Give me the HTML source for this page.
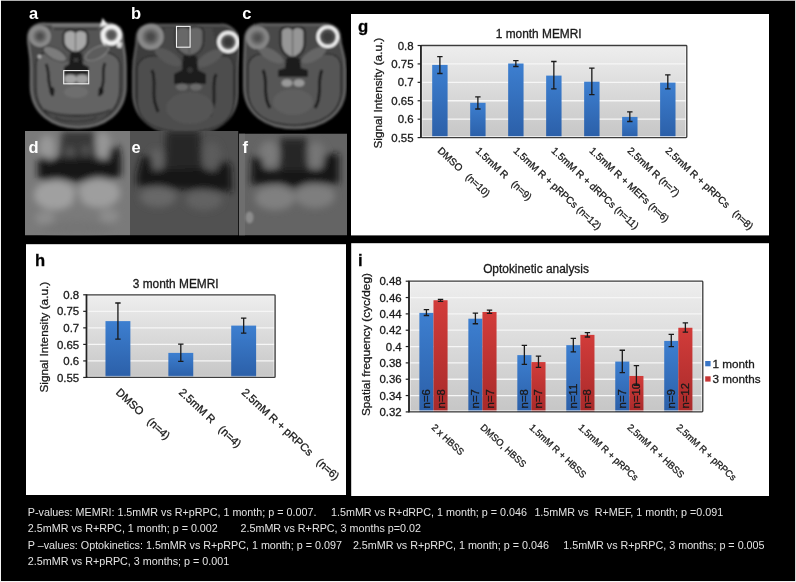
<!DOCTYPE html>
<html><head><meta charset="utf-8"><style>
html,body{margin:0;padding:0;background:#000;width:796px;height:582px;overflow:hidden}
svg{display:block;font-family:"Liberation Sans", sans-serif;will-change:transform}
text{stroke:#1a1a1a;stroke-width:0.3}
text.w{stroke:none}
</style></head><body>
<svg width="796" height="582" viewBox="0 0 796 582">

<defs>
  <linearGradient id="bgg" x1="0" y1="0" x2="0" y2="1">
    <stop offset="0" stop-color="#eeeeee"/><stop offset="1" stop-color="#c6c6c6"/>
  </linearGradient>
  <linearGradient id="bgh" x1="0" y1="0" x2="0" y2="1">
    <stop offset="0" stop-color="#eeeeee"/><stop offset="1" stop-color="#c6c6c6"/>
  </linearGradient>
  <linearGradient id="bgi" x1="0" y1="0" x2="0" y2="1">
    <stop offset="0" stop-color="#eeeeee"/><stop offset="1" stop-color="#c6c6c6"/>
  </linearGradient>
  <linearGradient id="blue" x1="0" y1="0" x2="0" y2="1">
    <stop offset="0" stop-color="#3d7fd0"/><stop offset="1" stop-color="#2b5fa8"/>
  </linearGradient>
  <linearGradient id="red" x1="0" y1="0" x2="0" y2="1">
    <stop offset="0" stop-color="#d23c3a"/><stop offset="1" stop-color="#a82a2a"/>
  </linearGradient>
  <filter id="b1" x="-20%" y="-20%" width="140%" height="140%"><feGaussianBlur stdDeviation="1"/></filter>
  <filter id="b2" x="-30%" y="-30%" width="160%" height="160%"><feGaussianBlur stdDeviation="2"/></filter>
  <filter id="b3" x="-30%" y="-30%" width="160%" height="160%"><feGaussianBlur stdDeviation="3.5"/></filter>
  <filter id="b5" x="-30%" y="-30%" width="160%" height="160%"><feGaussianBlur stdDeviation="5"/></filter>
  <clipPath id="cpa"><rect x="25" y="13" width="105" height="118"/></clipPath>
  <clipPath id="cpb"><rect x="130" y="13" width="109.5" height="118"/></clipPath>
  <clipPath id="cpc"><rect x="238" y="13" width="109" height="118"/></clipPath>
  <clipPath id="cpd"><rect x="25" y="131" width="105" height="104.5"/></clipPath>
  <clipPath id="cpe"><rect x="130" y="131" width="108.5" height="104.5"/></clipPath>
  <clipPath id="cpf"><rect x="239" y="133.5" width="108" height="102"/></clipPath>
</defs>

<rect x="0" y="0" width="796" height="582" fill="#000"/>
<rect x="0" y="0" width="796" height="1" fill="#b0b0b0"/>
<rect x="0" y="0" width="1" height="582" fill="#f4f4f4"/>
<rect x="795" y="0" width="1" height="582" fill="#d6d6d6"/>
<rect x="0" y="581" width="796" height="1" fill="#f4f4f4"/>
<g clip-path="url(#cpa)"><g filter="url(#b1)">
<path d="M46.480000000000004,24 L105.4,24 C111.4,23 122.4,25 122.4,37 C122.4,45 125.5,49 125.5,67 L125.5,85.5 C125.5,113.5 103.5,127.5 78.25,127.5 C53,127.5 31,113.5 31,85.5 L31,69.0 C31,51.0 28.2,47.0 28.2,38.2 C28.2,25.400000000000002 40,23 46.480000000000004,24 Z" fill="#4a4a4a"/>
<path d="M46.480000000000004,24 L105.4,24 C111.4,23 122.4,25 122.4,37 C122.4,45 125.5,49 125.5,67 L125.5,85.5 C125.5,113.5 103.5,127.5 78.25,127.5 C53,127.5 31,113.5 31,85.5 L31,69.0 C31,51.0 28.2,47.0 28.2,38.2 C28.2,25.400000000000002 40,23 46.480000000000004,24 Z" fill="none" stroke="#6e6e6e" stroke-width="2.5"/>
<path d="M36,66 C36,56 42,52 50,52 L102,52 C110,52 120,56 120,66 L120,88 C120,112 102,123 78,123 C54,123 36,112 36,88 Z" fill="#646464"/>
<path d="M36,66 C36,56 42,52 50,52 L102,52 C110,52 120,56 120,66 L120,88 C120,112 102,123 78,123 C54,123 36,112 36,88 Z" fill="none" stroke="#262626" stroke-width="1.3"/>
<path d="M44,108 C56,116 98,116 112,108 C106,120 92,124 78,124 C62,124 50,120 44,108 Z" fill="#4c4c4c"/>
<path d="M52,27 L100,27 L108,48 L92,62 L60,62 L45,48 Z" fill="#555"/>
<path d="M52,25.5 L100,25.5" stroke="#7a7a7a" stroke-width="2.4"/>
<path d="M54,28.8 L98,28.8" stroke="#2e2e2e" stroke-width="1.2"/>
<ellipse cx="55" cy="54" rx="13" ry="5.5" transform="rotate(28 55 54)" fill="#7c7c7c" stroke="#3a3a3a" stroke-width="1"/>
<ellipse cx="97" cy="53" rx="13" ry="5.5" transform="rotate(-28 97 53)" fill="#5c5c5c" stroke="#8a8a8a" stroke-width="1"/>
<path d="M70,53 L82,53 L83,64 L89,67 L89,72 L64,72 L64,67 L69,64 Z" fill="#1e1e1e"/>
<ellipse cx="76" cy="60" rx="2.5" ry="2" fill="#404040"/>
<path d="M46,64 C50,72 47,80 51,90 L53,96" stroke="#1a1a1a" stroke-width="2.6" fill="none"/>
<ellipse cx="52" cy="91" rx="2.5" ry="4" fill="#1a1a1a"/>
<ellipse cx="101" cy="91" rx="2.5" ry="4" fill="#1a1a1a"/>
<path d="M105,63 C101,72 106,80 101,90 L99,96" stroke="#1a1a1a" stroke-width="2.6" fill="none"/>
<rect x="64" y="71" width="24" height="3.5" fill="#1e1e1e"/>
<ellipse cx="70.5" cy="79" rx="6" ry="4.5" fill="#a4a4a4"/>
<ellipse cx="82" cy="79" rx="6" ry="4.5" fill="#a0a0a0"/>
<ellipse cx="76" cy="92" rx="12" ry="6" fill="#6e6e6e"/>
<path d="M44,110 C58,118 95,118 110,110" stroke="#2a2a2a" stroke-width="1.3" fill="none"/>
<path d="M55,117 C60,123 90,123 97,117" stroke="#333" stroke-width="1.2" fill="none"/>
<path d="M75.5,32.0 C73.5,29.0 63.5,29.0 63.5,35.5 L63.5,41 C63.5,48.5 71.5,52.5 75.5,52.5 C79.5,52.5 87.5,48.5 87.5,41 L87.5,35.5 C87.5,29.0 77.5,29.0 75.5,32.0 Z" fill="#a8a8a8" stroke="#262626" stroke-width="2"/><line x1="75.5" y1="32.5" x2="75.5" y2="50.5" stroke="#4a4a4a" stroke-width="0.9"/>
<circle cx="40" cy="36.2" r="10.8" fill="#8c8c8c"/><circle cx="40" cy="36.2" r="6.696000000000001" fill="#6a6a6a" filter="url(#b1)"/><circle cx="40" cy="36.2" r="3.78" fill="#4c4c4c" filter="url(#b1)"/>
<circle cx="111.4" cy="35" r="10.4" fill="#a0a0a0"/><circle cx="111.4" cy="35" r="8.3" fill="none" stroke="#f4f4f4" stroke-width="4.2"/><circle cx="111.4" cy="35" r="5.2" fill="#555" filter="url(#b1)"/>
<path d="M101,30 C100,38 102,44 106,46 L104,40 Z" fill="#f0f0f0"/>
<path d="M118,41 L122,43 L121,48 L117,47 Z" fill="#e6e6e6"/>
<path d="M100,27 L102.5,18 L108,25 Z" fill="#eeeeee"/>
<path d="M116,42 L121,44 L118,48 Z" fill="#dddddd"/>
<circle cx="39.5" cy="56.5" r="2" fill="#b0b0b0"/>
</g></g>
<g clip-path="url(#cpb)"><g filter="url(#b1)">
<path d="M158.5,25 L220.1,25 C227,24 239.5,30.4 239.5,43.9 C239.5,53.4 237.5,57.4 237.5,75.4 L237.5,92 C237.5,120 215.5,134 185.35,134 C155.2,134 133.2,120 133.2,92 L133.2,71.8 C133.2,53.8 136.7,49.8 136.7,38.8 C136.7,23.799999999999997 150.7,24 158.5,25 Z" fill="#3e3e3e"/>
<path d="M158.5,25 L220.1,25 C227,24 239.5,30.4 239.5,43.9 C239.5,53.4 237.5,57.4 237.5,75.4 L237.5,92 C237.5,120 215.5,134 185.35,134 C155.2,134 133.2,120 133.2,92 L133.2,71.8 C133.2,53.8 136.7,49.8 136.7,38.8 C136.7,23.799999999999997 150.7,24 158.5,25 Z" fill="none" stroke="#5a5a5a" stroke-width="2.5"/>
<path d="M137,70 C137,60 145,56 153,56 L225,56 C231,56 234,62 234,70 L234,100 C234,124 214,132 186,132 C158,132 137,124 137,100 Z" fill="#4e4e4e"/>
<path d="M137,70 C137,60 145,56 153,56 L225,56 C231,56 234,62 234,70 L234,100 C234,124 214,132 186,132 C158,132 137,124 137,100 Z" fill="none" stroke="#222" stroke-width="1.2"/>
<path d="M165,28 L212,28 L218,52 L204,64 L174,64 L160,52 Z" fill="#474747"/>
<ellipse cx="168" cy="57" rx="15" ry="6" transform="rotate(30 168 57)" fill="#595959"/>
<ellipse cx="210" cy="58" rx="15" ry="6" transform="rotate(-30 210 58)" fill="#5a5a5a"/>
<path d="M183,56 L197,56 L198,70 L206,74 L206,84 L174,84 L174,74 L182,70 Z" fill="#1c1c1c"/>
<ellipse cx="190" cy="70" rx="3" ry="3" fill="#333"/>
<path d="M152,70 C157,82 151,95 156,106 L158,112" stroke="#1a1a1a" stroke-width="2.8" fill="none"/>
<path d="M216,74 C211,86 217,100 212,110 L210,116" stroke="#1a1a1a" stroke-width="2.8" fill="none"/>
<ellipse cx="182" cy="87" rx="6" ry="3.5" fill="#6a6a6a"/>
<ellipse cx="196" cy="87" rx="6" ry="3.5" fill="#6a6a6a"/>
<ellipse cx="190" cy="108" rx="24" ry="16" fill="#545454"/>
<path d="M189.4,28.5 C187.4,25.5 175.4,25.5 175.4,32.0 L175.4,41 C175.4,52.0 185.4,56.0 189.4,56.0 C193.4,56.0 203.4,52.0 203.4,41 L203.4,32.0 C203.4,25.5 191.4,25.5 189.4,28.5 Z" fill="#676767" stroke="#2a2a2a" stroke-width="1.8"/><line x1="189.4" y1="29.0" x2="189.4" y2="54.0" stroke="#4a4a4a" stroke-width="0.9"/>
<circle cx="150.7" cy="36.8" r="13" fill="#8a8a8a"/><circle cx="150.7" cy="36.8" r="8.06" fill="#666" filter="url(#b1)"/><circle cx="150.7" cy="36.8" r="4.55" fill="#484848" filter="url(#b1)"/>
<circle cx="228.2" cy="42" r="11" fill="#6a6a6a"/><circle cx="228.2" cy="42" r="9.4" fill="none" stroke="#f2f2f2" stroke-width="3.2"/><circle cx="228.2" cy="42" r="5.5" fill="#383838" filter="url(#b1)"/>
</g></g>
<g clip-path="url(#cpc)"><g filter="url(#b1)">
<path d="M264.5,24.4 L321.02000000000004,24.4 C327.8,23.4 340.1,25.499999999999996 340.1,38.8 C340.1,48.099999999999994 345.3,52.099999999999994 345.3,70.1 L345.3,86 C345.3,114 323.3,128 294.75,128 C266.2,128 244.2,114 244.2,86 L244.2,71.3 C244.2,53.3 245.10000000000002,49.3 245.10000000000002,39.8 C245.10000000000002,26.299999999999997 257.6,23.4 264.5,24.4 Z" fill="#464646"/>
<path d="M264.5,24.4 L321.02000000000004,24.4 C327.8,23.4 340.1,25.499999999999996 340.1,38.8 C340.1,48.099999999999994 345.3,52.099999999999994 345.3,70.1 L345.3,86 C345.3,114 323.3,128 294.75,128 C266.2,128 244.2,114 244.2,86 L244.2,71.3 C244.2,53.3 245.10000000000002,49.3 245.10000000000002,39.8 C245.10000000000002,26.299999999999997 257.6,23.4 264.5,24.4 Z" fill="none" stroke="#666" stroke-width="2.5"/>
<path d="M248,68 C248,58 255,54 263,54 L327,54 C335,54 341,58 341,68 L341,90 C341,114 320,125 294,125 C268,125 248,114 248,90 Z" fill="#575757"/>
<path d="M248,68 C248,58 255,54 263,54 L327,54 C335,54 341,58 341,68 L341,90 C341,114 320,125 294,125 C268,125 248,114 248,90 Z" fill="none" stroke="#222" stroke-width="1.2"/>
<path d="M270,27 L316,27 L322,48 L308,60 L278,60 L264,48 Z" fill="#4a4a4a"/>
<ellipse cx="271" cy="55" rx="14" ry="5.5" transform="rotate(30 271 55)" fill="#666"/>
<ellipse cx="314" cy="55" rx="14" ry="5.5" transform="rotate(-30 314 55)" fill="#666"/>
<path d="M286,58 L300,58 L301,68 L308,70 L308,77 L278,77 L278,70 L285,68 Z" fill="#1c1c1c"/>
<path d="M263,70 C268,80 263,92 268,104 L270,108" stroke="#181818" stroke-width="2.8" fill="none"/>
<path d="M322,70 C317,80 322,92 317,104 L315,108" stroke="#181818" stroke-width="2.8" fill="none"/>
<ellipse cx="287" cy="83" rx="5.5" ry="3.8" fill="#9a9a9a"/>
<ellipse cx="299" cy="83" rx="5.5" ry="3.8" fill="#9a9a9a"/>
<ellipse cx="293" cy="102" rx="20" ry="13" fill="#5e5e5e"/>
<path d="M292.6,29.0 C290.6,26.0 280.6,26.0 280.6,32.5 L280.6,42 C280.6,53.5 288.6,57.5 292.6,57.5 C296.6,57.5 304.6,53.5 304.6,42 L304.6,32.5 C304.6,26.0 294.6,26.0 292.6,29.0 Z" fill="#969696" stroke="#202020" stroke-width="2.2"/><line x1="292.6" y1="29.5" x2="292.6" y2="55.5" stroke="#4a4a4a" stroke-width="0.9"/>
<circle cx="257.6" cy="37.8" r="11.5" fill="#868686"/><circle cx="257.6" cy="37.8" r="7.13" fill="#676767" filter="url(#b1)"/><circle cx="257.6" cy="37.8" r="4.0249999999999995" fill="#505050" filter="url(#b1)"/>
<circle cx="327.8" cy="36.8" r="11.3" fill="#5a5a5a"/><circle cx="327.8" cy="36.8" r="9.8" fill="none" stroke="#f6f6f6" stroke-width="3"/><circle cx="327.8" cy="36.8" r="5.65" fill="#3a3a3a" filter="url(#b1)"/>
</g></g>
<rect x="63.7" y="70.6" width="25" height="13.2" fill="none" stroke="#f2f2f2" stroke-width="1.1"/>
<rect x="176.5" y="26.4" width="13.6" height="20.8" fill="none" stroke="#f2f2f2" stroke-width="1.1"/>
<g clip-path="url(#cpd)">
<rect x="25" y="131" width="105" height="104.5" fill="#7a7a7a"/>
<g filter="url(#b3)">
<ellipse cx="47" cy="148" rx="8" ry="13" fill="#989898"/>
<ellipse cx="103" cy="146" rx="8" ry="14" fill="#969696"/>
<path d="M62,131 L94,131 L97,160 L59,160 Z" fill="#383838"/>
<ellipse cx="70" cy="152" rx="4" ry="5" fill="#5a5a5a"/>
<ellipse cx="86" cy="150" rx="4" ry="5" fill="#555"/>
<path d="M38,161 L42,156 L50,160 L58,158 L98,158 L108,160 L110,148 L119,146 L121,158 L121,176 L110,180 L98,178 L78,182 L58,179 L46,181 L38,178 Z" fill="#141414"/>
<ellipse cx="55" cy="195" rx="21" ry="15" fill="#a0a0a0"/>
<ellipse cx="99" cy="193" rx="21" ry="15" fill="#9e9e9e"/>
<ellipse cx="77" cy="200" rx="4" ry="9" fill="#7a7a7a"/>
<ellipse cx="45" cy="218" rx="10" ry="7" fill="#8c8c8c"/>
<ellipse cx="109" cy="216" rx="10" ry="7" fill="#8c8c8c"/>
<ellipse cx="77" cy="228" rx="36" ry="7" fill="#747474"/>
</g></g>
<g clip-path="url(#cpe)">
<rect x="130" y="131" width="108.5" height="104.5" fill="#515151"/>
<g filter="url(#b3)">
<ellipse cx="156" cy="160" rx="7" ry="11" fill="#646464"/>
<ellipse cx="212" cy="156" rx="9" ry="14" fill="#5c5c5c"/>
<path d="M166,131 L200,131 L202,170 L165,170 Z" fill="#262626"/>
<path d="M137,174 L142,156 L151,156 L153,170 L200,168 L215,172 L222,160 L231,165 L232,192 L200,189 L182,190 L160,186 L137,186 Z" fill="#161616"/>
<ellipse cx="158" cy="197" rx="18" ry="10" fill="#686868"/>
<ellipse cx="204" cy="200" rx="18" ry="10" fill="#626262"/>
</g></g>
<g clip-path="url(#cpf)">
<rect x="239" y="133.5" width="108" height="102" fill="#646464"/>
<rect x="239" y="133.5" width="6" height="102" fill="#6e6e6e"/>
<g filter="url(#b3)">
<ellipse cx="269" cy="154" rx="10" ry="13" fill="#7a7a7a"/>
<ellipse cx="316" cy="155" rx="10" ry="13" fill="#767676"/>
<path d="M280,138 L307,138 L308,172 L280,172 Z" fill="#262626"/>
<path d="M251,178 L252,156 L262,158 L264,170 L322,170 L325,154 L339,154 L339,184 L308,183 L294,188 L280,183 L251,185 Z" fill="#141414"/>
<ellipse cx="275" cy="198" rx="20" ry="12" fill="#808080"/>
<ellipse cx="315" cy="196" rx="20" ry="12" fill="#7e7e7e"/>
</g>
<ellipse cx="249.5" cy="217.5" rx="4" ry="6" fill="#8c8c8c" filter="url(#b1)"/>
</g>
<text x="29.0" y="19.1" font-size="16.5" font-weight="bold" fill="#fff" class="w">a</text>
<text x="130.9" y="19.1" font-size="16.5" font-weight="bold" fill="#fff" class="w">b</text>
<text x="242.3" y="19.2" font-size="16.5" font-weight="bold" fill="#fff" class="w">c</text>
<text x="28.6" y="153.1" font-size="16.5" font-weight="bold" fill="#fff" class="w">d</text>
<text x="131.4" y="153.1" font-size="16.5" font-weight="bold" fill="#fff" class="w">e</text>
<text x="242.6" y="153.1" font-size="16.5" font-weight="bold" fill="#fff" class="w">f</text>
<rect x="351" y="14" width="418" height="221.4" fill="#fff"/>
<text x="358.1" y="32.1" font-size="16.8" font-weight="bold" fill="#000">g</text>
<text x="538.7" y="37.9" font-size="11.9" text-anchor="middle" fill="#1a1a1a">1 month MEMRI</text>
<text transform="translate(382.3,93.2) rotate(-90)" font-size="11.8" text-anchor="middle" fill="#1a1a1a">Signal Intensity (a.u.)</text>
<rect x="420.9" y="45.5" width="265.9" height="92.1" fill="url(#bgg)"/>
<line x1="420.9" y1="119.18" x2="686.8" y2="119.18" stroke="#f6f6f6" stroke-width="1.3"/>
<line x1="420.9" y1="100.76" x2="686.8" y2="100.76" stroke="#f6f6f6" stroke-width="1.3"/>
<line x1="420.9" y1="82.34" x2="686.8" y2="82.34" stroke="#f6f6f6" stroke-width="1.3"/>
<line x1="420.9" y1="63.92" x2="686.8" y2="63.92" stroke="#f6f6f6" stroke-width="1.3"/>
<rect x="432.19" y="64.91" width="15.4" height="72.69" fill="url(#blue)"/>
<rect x="470.18" y="102.79" width="15.4" height="34.81" fill="url(#blue)"/>
<rect x="508.16" y="63.51" width="15.4" height="74.09" fill="url(#blue)"/>
<rect x="546.15" y="75.60" width="15.4" height="62.00" fill="url(#blue)"/>
<rect x="584.14" y="81.71" width="15.4" height="55.89" fill="url(#blue)"/>
<rect x="622.12" y="116.90" width="15.4" height="20.70" fill="url(#blue)"/>
<rect x="660.11" y="82.60" width="15.4" height="55.00" fill="url(#blue)"/>
<path d="M439.89 56.59V73.50M437.19 56.59H442.59M437.19 73.50H442.59" stroke="#1a1a1a" stroke-width="1.3" fill="none"/>
<path d="M477.88 96.82V109.01M475.18 96.82H480.58M475.18 109.01H480.58" stroke="#1a1a1a" stroke-width="1.3" fill="none"/>
<path d="M515.86 60.60V66.50M513.16 60.60H518.56M513.16 66.50H518.56" stroke="#1a1a1a" stroke-width="1.3" fill="none"/>
<path d="M553.85 61.49V88.90M551.15 61.49H556.55M551.15 88.90H556.55" stroke="#1a1a1a" stroke-width="1.3" fill="none"/>
<path d="M591.84 68.19V94.61M589.14 68.19H594.54M589.14 94.61H594.54" stroke="#1a1a1a" stroke-width="1.3" fill="none"/>
<path d="M629.82 111.81V121.50M627.12 111.81H632.52M627.12 121.50H632.52" stroke="#1a1a1a" stroke-width="1.3" fill="none"/>
<path d="M667.81 74.90V88.90M665.11 74.90H670.51M665.11 88.90H670.51" stroke="#1a1a1a" stroke-width="1.3" fill="none"/>
<rect x="422.0" y="46.6" width="263.7" height="89.89999999999999" fill="none" stroke="#fafafa" stroke-width="0.9" opacity="0.8"/>
<rect x="420.9" y="45.5" width="265.9" height="92.1" rx="0.8" fill="none" stroke="#3c3c3c" stroke-width="1.3"/>
<line x1="420.9" y1="45.0" x2="420.9" y2="138.1" stroke="#222" stroke-width="1.6"/>
<line x1="417.59999999999997" y1="137.60" x2="420.9" y2="137.60" stroke="#222" stroke-width="1.2"/>
<text x="413.60" y="141.72" font-size="11.45" text-anchor="end" fill="#1a1a1a">0.55</text>
<line x1="417.59999999999997" y1="119.18" x2="420.9" y2="119.18" stroke="#222" stroke-width="1.2"/>
<text x="413.60" y="123.30" font-size="11.45" text-anchor="end" fill="#1a1a1a">0.6</text>
<line x1="417.59999999999997" y1="100.76" x2="420.9" y2="100.76" stroke="#222" stroke-width="1.2"/>
<text x="413.60" y="104.88" font-size="11.45" text-anchor="end" fill="#1a1a1a">0.65</text>
<line x1="417.59999999999997" y1="82.34" x2="420.9" y2="82.34" stroke="#222" stroke-width="1.2"/>
<text x="413.60" y="86.46" font-size="11.45" text-anchor="end" fill="#1a1a1a">0.7</text>
<line x1="417.59999999999997" y1="63.92" x2="420.9" y2="63.92" stroke="#222" stroke-width="1.2"/>
<text x="413.60" y="68.04" font-size="11.45" text-anchor="end" fill="#1a1a1a">0.75</text>
<line x1="417.59999999999997" y1="45.50" x2="420.9" y2="45.50" stroke="#222" stroke-width="1.2"/>
<text x="413.60" y="49.62" font-size="11.45" text-anchor="end" fill="#1a1a1a">0.8</text>
<text transform="translate(436.89,151.5) rotate(43)" font-size="10" fill="#1a1a1a" xml:space="preserve">DMSO   (n=10)</text>
<text transform="translate(474.88,151.5) rotate(43)" font-size="10" fill="#1a1a1a" xml:space="preserve">1.5mM R   (n=9)</text>
<text transform="translate(512.86,151.5) rotate(43)" font-size="10" fill="#1a1a1a" xml:space="preserve">1.5mM R + pRPCs (n=12)</text>
<text transform="translate(550.85,151.5) rotate(43)" font-size="10" fill="#1a1a1a" xml:space="preserve">1.5mM R + dRPCs (n=11)</text>
<text transform="translate(588.84,151.5) rotate(43)" font-size="10" fill="#1a1a1a" xml:space="preserve">1.5mM R + MEFs (n=6)</text>
<text transform="translate(626.82,151.5) rotate(43)" font-size="10" fill="#1a1a1a" xml:space="preserve">2.5mM R (n=7)</text>
<text transform="translate(664.81,151.5) rotate(43)" font-size="10" fill="#1a1a1a" xml:space="preserve">2.5mM R + pRPCs   (n=8)</text>
<rect x="26" y="244.2" width="320" height="250.8" fill="#fff"/>
<text x="35.1" y="265.6" font-size="16.6" font-weight="bold" fill="#000">h</text>
<text x="175.7" y="288.2" font-size="11.9" text-anchor="middle" fill="#1a1a1a">3 month MEMRI</text>
<text transform="translate(47.7,337.2) rotate(-90)" font-size="11.8" text-anchor="middle" fill="#1a1a1a">Signal Intensity (a.u.)</text>
<rect x="86.5" y="294.8" width="188.60000000000002" height="82.64999999999998" fill="url(#bgh)"/>
<line x1="86.5" y1="360.92" x2="275.1" y2="360.92" stroke="#f6f6f6" stroke-width="1.3"/>
<line x1="86.5" y1="344.39" x2="275.1" y2="344.39" stroke="#f6f6f6" stroke-width="1.3"/>
<line x1="86.5" y1="327.86" x2="275.1" y2="327.86" stroke="#f6f6f6" stroke-width="1.3"/>
<line x1="86.5" y1="311.33" x2="275.1" y2="311.33" stroke="#f6f6f6" stroke-width="1.3"/>
<rect x="105.48" y="321.12" width="24.9" height="56.33" fill="url(#blue)"/>
<rect x="168.35" y="352.89" width="24.9" height="24.56" fill="url(#blue)"/>
<rect x="231.22" y="325.61" width="24.9" height="51.84" fill="url(#blue)"/>
<path d="M117.93 303.00V339.20M115.23 303.00H120.63M115.23 339.20H120.63" stroke="#1a1a1a" stroke-width="1.3" fill="none"/>
<path d="M180.80 344.19V361.28M178.10 344.19H183.50M178.10 361.28H183.50" stroke="#1a1a1a" stroke-width="1.3" fill="none"/>
<path d="M243.67 318.11V333.22M240.97 318.11H246.37M240.97 333.22H246.37" stroke="#1a1a1a" stroke-width="1.3" fill="none"/>
<rect x="87.6" y="295.90000000000003" width="186.40000000000003" height="80.44999999999997" fill="none" stroke="#fafafa" stroke-width="0.9" opacity="0.8"/>
<rect x="86.5" y="294.8" width="188.60000000000002" height="82.64999999999998" rx="0.8" fill="none" stroke="#3c3c3c" stroke-width="1.3"/>
<line x1="86.5" y1="294.3" x2="86.5" y2="377.95" stroke="#222" stroke-width="1.6"/>
<line x1="83.2" y1="377.45" x2="86.5" y2="377.45" stroke="#222" stroke-width="1.2"/>
<text x="79.20" y="381.57" font-size="11.45" text-anchor="end" fill="#1a1a1a">0.55</text>
<line x1="83.2" y1="360.92" x2="86.5" y2="360.92" stroke="#222" stroke-width="1.2"/>
<text x="79.20" y="365.04" font-size="11.45" text-anchor="end" fill="#1a1a1a">0.6</text>
<line x1="83.2" y1="344.39" x2="86.5" y2="344.39" stroke="#222" stroke-width="1.2"/>
<text x="79.20" y="348.51" font-size="11.45" text-anchor="end" fill="#1a1a1a">0.65</text>
<line x1="83.2" y1="327.86" x2="86.5" y2="327.86" stroke="#222" stroke-width="1.2"/>
<text x="79.20" y="331.98" font-size="11.45" text-anchor="end" fill="#1a1a1a">0.7</text>
<line x1="83.2" y1="311.33" x2="86.5" y2="311.33" stroke="#222" stroke-width="1.2"/>
<text x="79.20" y="315.45" font-size="11.45" text-anchor="end" fill="#1a1a1a">0.75</text>
<line x1="83.2" y1="294.80" x2="86.5" y2="294.80" stroke="#222" stroke-width="1.2"/>
<text x="79.20" y="298.92" font-size="11.45" text-anchor="end" fill="#1a1a1a">0.8</text>
<text transform="translate(115.33,393.3) rotate(43)" font-size="11.1" fill="#1a1a1a" xml:space="preserve">DMSO   (n=4)</text>
<text transform="translate(178.20,393.3) rotate(43)" font-size="11.1" fill="#1a1a1a" xml:space="preserve">2.5mM R   (n=4)</text>
<text transform="translate(241.07,393.3) rotate(43)" font-size="11.1" fill="#1a1a1a" xml:space="preserve">2.5mM R + pRPCs   (n=6)</text>
<rect x="351.2" y="243.2" width="417.8" height="252.8" fill="#fff"/>
<text x="357.9" y="265.6" font-size="16.6" font-weight="bold" fill="#000">i</text>
<text x="536" y="272.8" font-size="11.9" text-anchor="middle" fill="#1a1a1a">Optokinetic analysis</text>
<text transform="translate(369.8,344.6) rotate(-90)" font-size="11.8" text-anchor="middle" fill="#1a1a1a">Spatial frequency (cyc/deg)</text>
<rect x="409" y="281.2" width="293.79999999999995" height="130.7" fill="url(#bgi)"/>
<line x1="409" y1="395.56" x2="702.8" y2="395.56" stroke="#f6f6f6" stroke-width="1.3"/>
<line x1="409" y1="379.23" x2="702.8" y2="379.23" stroke="#f6f6f6" stroke-width="1.3"/>
<line x1="409" y1="362.89" x2="702.8" y2="362.89" stroke="#f6f6f6" stroke-width="1.3"/>
<line x1="409" y1="346.55" x2="702.8" y2="346.55" stroke="#f6f6f6" stroke-width="1.3"/>
<line x1="409" y1="330.21" x2="702.8" y2="330.21" stroke="#f6f6f6" stroke-width="1.3"/>
<line x1="409" y1="313.88" x2="702.8" y2="313.88" stroke="#f6f6f6" stroke-width="1.3"/>
<line x1="409" y1="297.54" x2="702.8" y2="297.54" stroke="#f6f6f6" stroke-width="1.3"/>
<rect x="419.38" y="312.89" width="14.1" height="99.01" fill="url(#blue)"/>
<rect x="433.48" y="300.23" width="14.1" height="111.67" fill="url(#red)"/>
<rect x="468.35" y="318.69" width="14.1" height="93.21" fill="url(#blue)"/>
<rect x="482.45" y="312.00" width="14.1" height="99.90" fill="url(#red)"/>
<rect x="517.32" y="355.13" width="14.1" height="56.77" fill="url(#blue)"/>
<rect x="531.42" y="362.07" width="14.1" height="49.83" fill="url(#red)"/>
<rect x="566.28" y="345.16" width="14.1" height="66.74" fill="url(#blue)"/>
<rect x="580.38" y="334.87" width="14.1" height="77.03" fill="url(#red)"/>
<rect x="615.25" y="361.58" width="14.1" height="50.32" fill="url(#blue)"/>
<rect x="629.35" y="375.96" width="14.1" height="35.94" fill="url(#red)"/>
<rect x="664.22" y="340.91" width="14.1" height="70.99" fill="url(#blue)"/>
<rect x="678.32" y="327.76" width="14.1" height="84.14" fill="url(#red)"/>
<path d="M426.43 309.71V315.51M423.73 309.71H429.13M423.73 315.51H429.13" stroke="#1a1a1a" stroke-width="1.3" fill="none"/>
<path d="M440.53 299.33V301.38M437.83 299.33H443.23M437.83 301.38H443.23" stroke="#1a1a1a" stroke-width="1.3" fill="none"/>
<path d="M475.40 313.22V323.76M472.70 313.22H478.10M472.70 323.76H478.10" stroke="#1a1a1a" stroke-width="1.3" fill="none"/>
<path d="M489.50 310.20V313.38M486.80 310.20H492.20M486.80 313.38H492.20" stroke="#1a1a1a" stroke-width="1.3" fill="none"/>
<path d="M524.37 345.41V364.36M521.67 345.41H527.07M521.67 364.36H527.07" stroke="#1a1a1a" stroke-width="1.3" fill="none"/>
<path d="M538.47 356.03V367.38M535.77 356.03H541.17M535.77 367.38H541.17" stroke="#1a1a1a" stroke-width="1.3" fill="none"/>
<path d="M573.33 338.38V351.86M570.63 338.38H576.03M570.63 351.86H576.03" stroke="#1a1a1a" stroke-width="1.3" fill="none"/>
<path d="M587.43 332.58V336.99M584.73 332.58H590.13M584.73 336.99H590.13" stroke="#1a1a1a" stroke-width="1.3" fill="none"/>
<path d="M622.30 350.23V372.69M619.60 350.23H625.00M619.60 372.69H625.00" stroke="#1a1a1a" stroke-width="1.3" fill="none"/>
<path d="M636.40 365.66V385.27M633.70 365.66H639.10M633.70 385.27H639.10" stroke="#1a1a1a" stroke-width="1.3" fill="none"/>
<path d="M671.27 334.30V346.71M668.57 334.30H673.97M668.57 346.71H673.97" stroke="#1a1a1a" stroke-width="1.3" fill="none"/>
<path d="M685.37 322.86V332.09M682.67 322.86H688.07M682.67 332.09H688.07" stroke="#1a1a1a" stroke-width="1.3" fill="none"/>
<rect x="410.1" y="282.3" width="291.59999999999997" height="128.5" fill="none" stroke="#fafafa" stroke-width="0.9" opacity="0.8"/>
<rect x="409" y="281.2" width="293.79999999999995" height="130.7" rx="0.8" fill="none" stroke="#3c3c3c" stroke-width="1.3"/>
<line x1="409" y1="280.7" x2="409" y2="412.4" stroke="#222" stroke-width="1.6"/>
<line x1="405.7" y1="411.90" x2="409" y2="411.90" stroke="#222" stroke-width="1.2"/>
<text x="401.70" y="416.02" font-size="11.45" text-anchor="end" fill="#1a1a1a">0.32</text>
<line x1="405.7" y1="395.56" x2="409" y2="395.56" stroke="#222" stroke-width="1.2"/>
<text x="401.70" y="399.68" font-size="11.45" text-anchor="end" fill="#1a1a1a">0.34</text>
<line x1="405.7" y1="379.23" x2="409" y2="379.23" stroke="#222" stroke-width="1.2"/>
<text x="401.70" y="383.35" font-size="11.45" text-anchor="end" fill="#1a1a1a">0.36</text>
<line x1="405.7" y1="362.89" x2="409" y2="362.89" stroke="#222" stroke-width="1.2"/>
<text x="401.70" y="367.01" font-size="11.45" text-anchor="end" fill="#1a1a1a">0.38</text>
<line x1="405.7" y1="346.55" x2="409" y2="346.55" stroke="#222" stroke-width="1.2"/>
<text x="401.70" y="350.67" font-size="11.45" text-anchor="end" fill="#1a1a1a">0.4</text>
<line x1="405.7" y1="330.21" x2="409" y2="330.21" stroke="#222" stroke-width="1.2"/>
<text x="401.70" y="334.33" font-size="11.45" text-anchor="end" fill="#1a1a1a">0.42</text>
<line x1="405.7" y1="313.88" x2="409" y2="313.88" stroke="#222" stroke-width="1.2"/>
<text x="401.70" y="318.00" font-size="11.45" text-anchor="end" fill="#1a1a1a">0.44</text>
<line x1="405.7" y1="297.54" x2="409" y2="297.54" stroke="#222" stroke-width="1.2"/>
<text x="401.70" y="301.66" font-size="11.45" text-anchor="end" fill="#1a1a1a">0.46</text>
<line x1="405.7" y1="281.20" x2="409" y2="281.20" stroke="#222" stroke-width="1.2"/>
<text x="401.70" y="285.32" font-size="11.45" text-anchor="end" fill="#1a1a1a">0.48</text>
<text transform="translate(430.43,408.4) rotate(-90)" font-size="11.3" fill="#1a1a1a">n=6</text>
<text transform="translate(444.53,408.4) rotate(-90)" font-size="11.3" fill="#1a1a1a">n=8</text>
<text transform="translate(479.40,408.4) rotate(-90)" font-size="11.3" fill="#1a1a1a">n=7</text>
<text transform="translate(493.50,408.4) rotate(-90)" font-size="11.3" fill="#1a1a1a">n=7</text>
<text transform="translate(528.37,408.4) rotate(-90)" font-size="11.3" fill="#1a1a1a">n=8</text>
<text transform="translate(542.47,408.4) rotate(-90)" font-size="11.3" fill="#1a1a1a">n=7</text>
<text transform="translate(577.33,408.4) rotate(-90)" font-size="11.3" fill="#1a1a1a">n=11</text>
<text transform="translate(591.43,408.4) rotate(-90)" font-size="11.3" fill="#1a1a1a">n=8</text>
<text transform="translate(626.30,408.4) rotate(-90)" font-size="11.3" fill="#1a1a1a">n=7</text>
<text transform="translate(640.40,408.4) rotate(-90)" font-size="11.3" fill="#1a1a1a">n=10</text>
<text transform="translate(675.27,408.4) rotate(-90)" font-size="11.3" fill="#1a1a1a">n=9</text>
<text transform="translate(689.37,408.4) rotate(-90)" font-size="11.3" fill="#1a1a1a">n=12</text>
<rect x="705.2" y="361" width="5.4" height="5.3" fill="#3a76c6"/>
<rect x="705.2" y="376.3" width="5.4" height="5.3" fill="#c63636"/>
<text x="712.6" y="368" font-size="11.7" fill="#1a1a1a">1 month</text>
<text x="712.6" y="383.2" font-size="11.7" fill="#1a1a1a">3 months</text>
<text transform="translate(430.88,428.2) rotate(43) scale(0.97,1)" font-size="9.6" fill="#1a1a1a">2 x HBSS</text>
<text transform="translate(479.85,428.2) rotate(43) scale(0.97,1)" font-size="9.6" fill="#1a1a1a">DMSO, HBSS</text>
<text transform="translate(528.82,428.2) rotate(43) scale(0.97,1)" font-size="9.6" fill="#1a1a1a">1.5mM R + HBSS</text>
<text transform="translate(577.78,428.2) rotate(43) scale(0.97,1)" font-size="9.6" fill="#1a1a1a">1.5mM R + pRPCs</text>
<text transform="translate(626.75,428.2) rotate(43) scale(0.97,1)" font-size="9.6" fill="#1a1a1a">2.5mM R + HBSS</text>
<text transform="translate(675.72,428.2) rotate(43) scale(0.97,1)" font-size="9.6" fill="#1a1a1a">2.5mM R + pRPCs</text>
<text x="27.8" y="515.5" font-size="10.75" fill="#e2e2e2" class="w" xml:space="preserve">P-values: MEMRI: 1.5mMR vs R+pRPC, 1 month; p = 0.007.</text>
<text x="331.0" y="515.5" font-size="10.75" fill="#e2e2e2" class="w" xml:space="preserve">1.5mMR vs R+dRPC, 1 month; p = 0.046</text>
<text x="534.4" y="515.5" font-size="10.75" fill="#e2e2e2" class="w" xml:space="preserve">1.5mMR vs  R+MEF, 1 month; p =0.091</text>
<text x="27.8" y="532.4" font-size="10.75" fill="#e2e2e2" class="w" xml:space="preserve">2.5mMR vs R+RPC, 1 month; p = 0.002</text>
<text x="240.5" y="532.4" font-size="10.75" fill="#e2e2e2" class="w" xml:space="preserve">2.5mMR vs R+RPC, 3 months p=0.02</text>
<text x="27.8" y="549.0" font-size="10.75" fill="#e2e2e2" class="w" xml:space="preserve">P –values: Optokinetics: 1.5mMR vs R+pRPC, 1 month; p = 0.097</text>
<text x="352.9" y="549.0" font-size="10.75" fill="#e2e2e2" class="w" xml:space="preserve">2.5mMR vs R+pRPC, 1 month; p = 0.046</text>
<text x="563.2" y="549.0" font-size="10.75" fill="#e2e2e2" class="w" xml:space="preserve">1.5mMR vs R+pRPC, 3 months; p = 0.005</text>
<text x="27.8" y="564.6" font-size="10.75" fill="#e2e2e2" class="w" xml:space="preserve">2.5mMR vs R+pRPC, 3 months; p = 0.001</text>
</svg>
</body></html>
